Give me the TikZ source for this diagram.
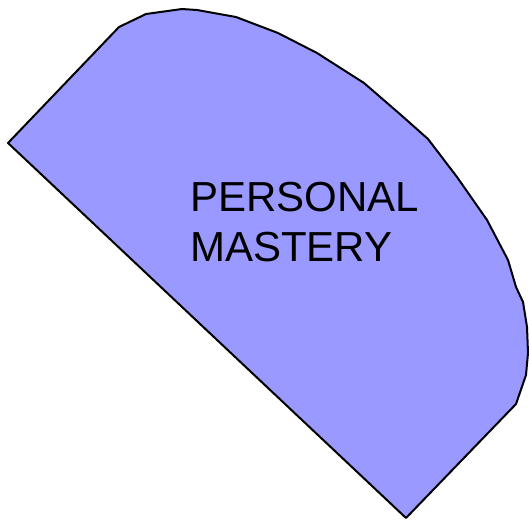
\documentclass[tikz,border=0pt]{standalone}
\usepackage{fontspec}
\setmainfont{Liberation Sans}
\definecolor{pmblue}{HTML}{9999FF}
\begin{document}
\begin{tikzpicture}[x=1pt,y=-1pt]
\useasboundingbox (0,0) rectangle (529,520);
% outline points of the curved sector, going clockwise from the left tip
\coordinate (tip) at (8,143);
\coordinate (bot) at (406,518);
\filldraw[fill=pmblue, draw=black, line width=2pt, line join=round]
    (tip) -- (119,27) -- (146,14) -- (182,9) -- (197,10) -- (236,17)
    -- (278,33) -- (317,53) -- (364,83) -- (401,115) -- (428,139)
    -- (457,177) -- (487,220) -- (508,260) -- (516,287) -- (523,302)
    -- (527,327) -- (528,353) -- (526,375) -- (516,404) -- (bot) -- cycle;
\node[font=\fontsize{42}{50}\selectfont, align=left, anchor=north west, inner sep=0pt] (label) at (190,182) {PERSONAL\\MASTERY};
\end{tikzpicture}
\end{document}
